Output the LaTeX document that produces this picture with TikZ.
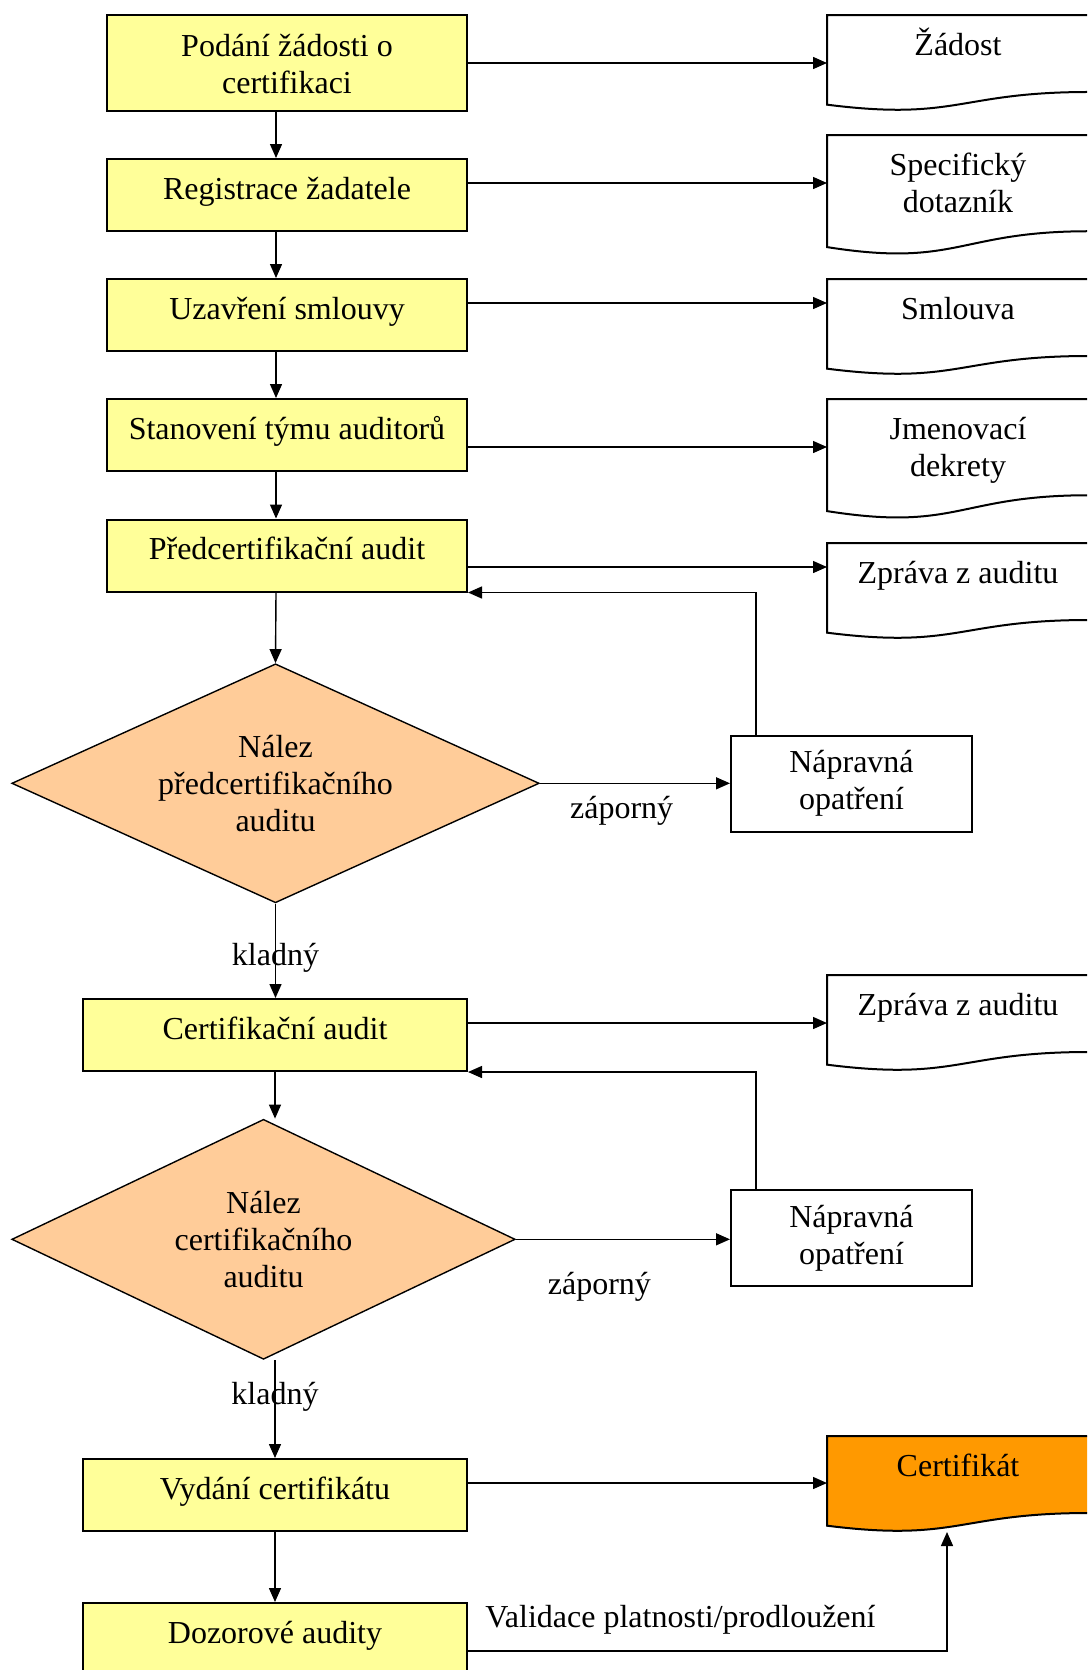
\documentclass[tikz,border=0pt]{standalone}
\usepackage{fontspec}
\setmainfont{Liberation Serif}
\usetikzlibrary{arrows.meta,shapes.geometric,positioning}
\definecolor{boxyellow}{HTML}{FFFF99}
\definecolor{findpeach}{HTML}{FFCC99}
\definecolor{certorange}{HTML}{FF9900}

\begin{document}
\begin{tikzpicture}[x=0.5pt,y=-0.5pt,font=\fontsize{16}{18.5}\selectfont]
	\def\lw{1pt}
	\tikzstyle{block} = [draw, fill=boxyellow, rectangle, line width=\lw, minimum width=180pt, minimum height=36pt, align=center, inner sep=0pt, text height=11.5pt, text depth=7.5pt];
	\tikzstyle{wide} = [block, minimum width=192pt];
	\tikzstyle{decision} = [draw, fill=findpeach, diamond, aspect=2.2, line width=0.7pt, align=center, inner sep=0pt];
	\tikzstyle{fix} = [draw, fill=white, rectangle, line width=\lw, minimum width=120.5pt, minimum height=48pt, align=center, inner sep=0pt];
	\tikzstyle{doc} = [rectangle, anchor=north west, minimum width=131pt, align=center, inner sep=0pt, outer sep=0pt];
	\tikzstyle{docline} = [draw, line width=\lw];
	\tikzstyle{arr} = [draw, line width=0.7pt, -{Triangle[length=7pt,width=6pt]}];
	\tikzstyle{lbl} = [inner sep=0pt];

	\useasboundingbox (0,0) rectangle (1087,1670);
	\clip (0,0) rectangle (1087,1670);

	% main column
	\node[block, minimum height=48pt, text height=30pt, text depth=0pt] (b1) at (287,63) {Podání žádosti o\\certifikaci};
	\node[block] (b2) at (287,195) {Registrace žadatele};
	\node[block] (b3) at (287,315) {Uzavření smlouvy};
	\node[block] (b4) at (287,435) {Stanovení týmu auditorů};
	\node[block] (b5) at (287,555.5) {Předcertifikační audit};
	\node[decision, minimum width=263.7pt, minimum height=119.5pt] (d1) at (275.5,783.3) {Nález\\předcertifikačního\\auditu};
	\node[wide] (b6) at (275,1035) {Certifikační audit};
	\node[decision, minimum width=251.7pt, minimum height=120pt] (d2) at (263.5,1239.3) {Nález\\certifikačního\\auditu};
	\node[wide] (b7) at (275,1495) {Vydání certifikátu};
	\node[wide] (b8) at (275,1639) {Dozorové audity};

	\node[fix] (n1) at (851.5,783.5) {Nápravná\\opatření};
	\node[fix] (n2) at (851.5,1238) {Nápravná\\opatření};

	\coordinate (spine) at (276,0);
	\coordinate (fb) at (756,0);

	% vertical flow
	\foreach \u/\v in {b1/b2,b2/b3,b3/b4,b4/b5}
		\draw[arr] (\u.south -| spine) -- (\v.north -| spine);
	\draw[arr] (b5.south -| spine) -- (d1.north);
	\draw[arr] (d1.south) -- node[lbl, pos=0.57] (k1) {kladný} (d1.south |- b6.north);
	\draw[arr] (b6.south) -- (b6.south |- d2.north);
	\draw[arr] (b7.north |- d2.south) -- node[lbl, pos=0.38] (k2) {kladný} (b7.north);
	\draw[arr] (b7.south) -- (b8.north);

	% negative findings and loops back
	\draw[arr] (d1.east) -- node[lbl, below=6pt, pos=0.43] (z1) {záporný} (d1.east -| n1.west);
	\draw[arr] (d2.east) -- node[lbl, below=16pt, pos=0.39] (z2) {záporný} (d2.east -| n2.west);
	\draw[arr] (n1.north -| fb) |- (b5.south east);
	\draw[arr] (n2.north -| fb) |- (b6.south east);

	% documents
	\foreach \src/\doc/\ytop/\dh/\hgt/\ya/\fc/\txt in {
		b1/dz1/15/96/20/63/white/{Žádost},
		b2/dz2/135/120/38.5/183/white/{Specifický\\dotazník},
		b3/dz3/279/96/20/303/white/{Smlouva},
		b4/dz4/399/120/38.5/447/white/{Jmenovací\\dekrety},
		b5/dz5/543/96/20/567/white/{Zpráva z auditu},
		b6/dz6/975/96/20/1023/white/{Zpráva z auditu},
		b7/cert/1436/96/20/1483/certorange/{Certifikát}}
	{
		\pgfmathsetmacro\dd{\dh*0.5-\hgt}
		\draw[docline, fill=\fc] (827,\ytop+0.934*\dh) -- (827,\ytop) -- (1089,\ytop) -- (1089,\ytop+0.802*\dh)
			.. controls (958,\ytop+0.802*\dh) and (958,\ytop+1.107*\dh) .. cycle;
		\node[doc, text height=\hgt pt, text depth=\dd pt] (\doc) at (827,\ytop) {\txt};
		\coordinate (y\doc) at (0,\ya);
		\draw[arr] (\src.east |- y\doc) -- (\doc.west |- y\doc);
	}

	% surveillance back to certificate
	\coordinate (v) at (947,1651);
	\draw[arr] (b8.east |- v) -| (cert.south -| v);
	\node[lbl, anchor=base west] (val) at (485,1627) {Validace platnosti/prodloužení};
\end{tikzpicture}
\end{document}
